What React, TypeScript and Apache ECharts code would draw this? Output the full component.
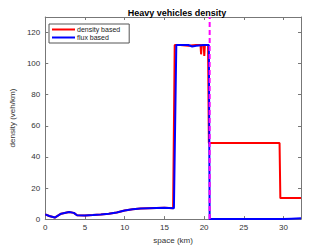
import React, { useEffect, useRef } from "react";
import * as echarts from "echarts";

const titleText = "Heavy vehicles density";
const xLabel = "space (km)";
const yLabel = "density (veh/km)";
const seriesNames = ["density based", "flux based"];

const fluxX = [0, 0.5, 1.2, 2, 3, 3.6, 4, 5, 6, 7, 8, 9, 10, 11, 12, 13, 14, 15, 16.2, 16.5, 17, 18, 18.5, 19, 20, 20.6, 20.7, 25, 30, 31, 32.2];
const fluxY = [3, 2, 1, 3.5, 4.5, 4, 2.5, 2.3, 2.6, 3, 3.5, 4.3, 5.5, 6.3, 6.8, 7, 7.2, 7.3, 7, 112, 112, 112, 111, 111.5, 112, 112, 0, 0, 0, 0.3, 0.5];

const densX = [0, 0.5, 1.2, 2, 3, 3.6, 4, 5, 6, 7, 8, 9, 10, 11, 12, 13, 14, 15, 16.1, 16.3, 17, 18, 19, 19.55, 19.62, 19.7, 19.95, 20.02, 20.1, 20.5, 20.6, 29.5, 29.6, 32.2];
const densY = [3, 2, 1, 3.5, 4.5, 4, 2.5, 2.3, 2.6, 3, 3.5, 4.3, 5.5, 6.3, 6.8, 7, 7.2, 7.3, 7, 112, 112, 111.5, 112, 112, 106, 112, 112, 105, 112, 112, 49, 49, 13.5, 13.5];

const markerX = 20.7;
const xMin = 0, xMax = 32.2, xStep = 5;
const yMin = 0, yMax = 130, yStep = 20;

const font = "Liberation Sans, Arial, sans-serif";
const axisColor = "#777";

export default function App() {
  const ref = useRef<HTMLDivElement>(null);
  useEffect(() => {
    const chart = echarts.init(ref.current!, null, { renderer: "svg" });
    const pair = (xs: number[], ys: number[]) => xs.map((x, i) => [x, ys[i]]);
    const baseAxis = {
      axisLine: { show: true, onZero: false, lineStyle: { color: axisColor, width: 1 } },
      axisTick: { show: true, inside: true, length: 3, lineStyle: { color: axisColor } },
      splitLine: { show: false },
    };
    chart.setOption({
      animation: false,
      backgroundColor: "#fff",
      title: {
        text: titleText,
        left: 172,
        top: 3,
        textAlign: "center",
        textStyle: { fontFamily: font, fontSize: 9, fontWeight: "bold", color: "#000" },
      },
      grid: { left: 43, right: 31, top: 17, bottom: 27 },
      legend: {
        orient: "vertical",
        left: 49,
        top: 24,
        padding: [2, 9, 2, 3],
        itemGap: 1,
        itemWidth: 23,
        itemHeight: 2,
        icon: "rect",
        borderColor: "#555",
        borderWidth: 1,
        backgroundColor: "#fff",
        data: seriesNames,
        textStyle: { fontFamily: font, fontSize: 7, color: "#222", padding: [0, 0, 0, -3] },
      },
      xAxis: [
        {
          ...baseAxis,
          type: "value",
          min: xMin,
          max: xMax,
          interval: xStep,
          name: xLabel,
          nameLocation: "middle",
          nameGap: 14,
          nameTextStyle: { fontFamily: font, fontSize: 8, color: "#333" },
          axisLabel: { fontFamily: font, fontSize: 8, color: "#333", margin: 4, showMaxLabel: false },
        },
        {
          ...baseAxis,
          type: "value",
          position: "top",
          min: xMin,
          max: xMax,
          interval: xStep,
          axisLabel: { show: false },
        },
      ],
      yAxis: [
        {
          ...baseAxis,
          type: "value",
          min: yMin,
          max: yMax,
          interval: yStep,
          name: yLabel,
          nameLocation: "middle",
          nameGap: 21,
          nameTextStyle: { fontFamily: font, fontSize: 8, color: "#333" },
          axisLabel: { fontFamily: font, fontSize: 8, color: "#333", margin: 5, showMaxLabel: false },
        },
        {
          ...baseAxis,
          type: "value",
          position: "right",
          min: yMin,
          max: yMax,
          interval: yStep,
          axisLabel: { show: false },
        },
      ],
      series: [
        {
          name: seriesNames[0],
          type: "line",
          data: pair(densX, densY),
          showSymbol: false,
          symbol: "none",
          color: "#ff0000",
          lineStyle: { color: "#ff0000", width: 2 },
          z: 2,
        },
        {
          name: seriesNames[1],
          type: "line",
          data: pair(fluxX, fluxY),
          showSymbol: false,
          symbol: "none",
          color: "#0000ff",
          lineStyle: { color: "#0000ff", width: 2 },
          z: 3,
        },
        {
          name: "marker",
          type: "line",
          data: [[markerX, yMin], [markerX, yMax]],
          showSymbol: false,
          symbol: "none",
          lineStyle: { color: "#ff00ff", width: 2, type: [5, 3] },
          z: 4,
        },
      ],
    });
    return () => chart.dispose();
  }, []);
  return <div ref={ref} style={{ width: 332, height: 249, position: "absolute", left: 0, top: 0 }} />;
}
